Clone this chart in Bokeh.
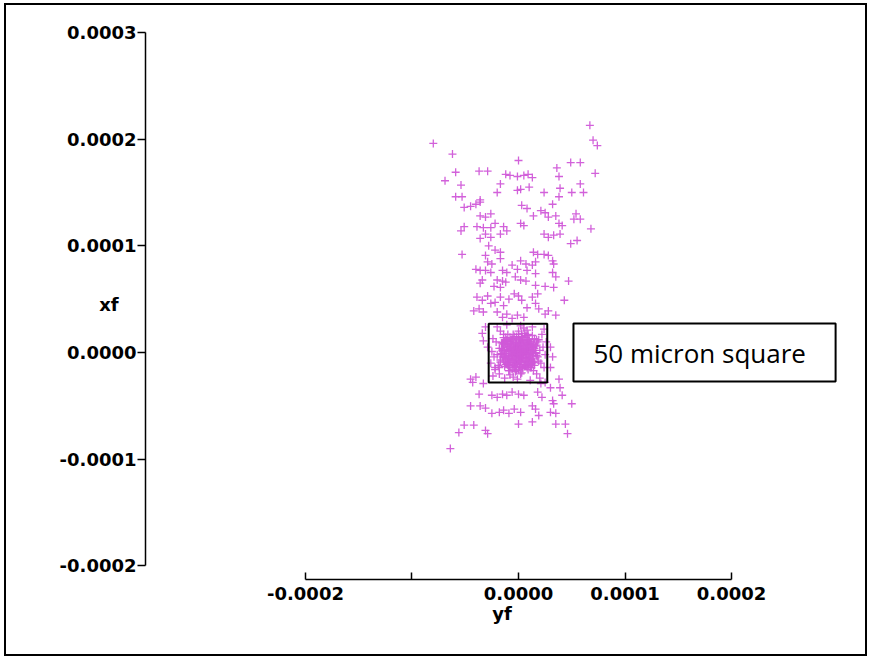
import numpy as np
from bokeh.plotting import figure
from bokeh.models import (Range1d, FixedTicker, CustomJSTickFormatter, BoxAnnotation,
                          Label, ColumnDataSource)
from bokeh.embed import file_html
from bokeh.resources import INLINE

# ---- data (in micrometres; converted to metres below) ----
# horizontal axis "yf", vertical axis "xf"
yf_outer_um = [-80, -62, -59, -69, -54, -37, -29, 0, -12, -8, -1, 5, 9, -17, -20, -1, 2, 10, -59, -53, -36,
               67, 70, 74, 49, 58, 36, 38, 72, 39, 58, 50, 61, 24, 38, 13,
               -51, -45, -40, -36, 3, 8, -36, -31, -26, -22, -39, -33, -26, -51, -54, -14, -11, 2, 5,
               -31, -36, -26, -17, -28, -22, -17, -53, -31, -17, -29, -25, -40, -36, -31, -26, -15, -11,
               2, 7, -6, -1, -34, -36, -20, -15, -12, -23, -17, -3, 2, 7, 8,
               32, 21, 25, 28, 35, 14, 54, 52, 58, 68, 38, 41, 24, 28, 33, 39, 49, 55, 14, 18, 24, 28,
               32, 33, 16, 13, 32, 35, 16, 47, 16, 25, 33,
               -39, -34, -29, -26, -22, -17, -14, -9, -4, 0, 3, 8, -42, -37, -33, -20, -15, -11, -6, -1, 5,
               -31, -34, -33, -29, -45, -40, -22, -18,
               13, 18, 16, 19, 35, 43, 25, 28, 30, 32, 30, 38,
               -43, -33, -37, -45, -36, -31, -25, -20, -15, -11, -6, 0, 5, -25, -18, -14, -9, -4, 2,
               -51, -56, -42, -31, -29, 0, -64,
               21, 25, 30, 18, 22, 39, 41, 32, 33, 50, 13, 16, 19, 30, 35, 13, 35, 44, 46]
xf_outer_um = [196, 186, 169, 161, 157, 170, 170, 180, 167, 166, 165, 166, 167, 158, 150, 152, 153, 155, 146, 146, 143,
               213, 199, 194, 178, 178, 173, 165, 168, 154, 158, 150, 150, 150, 146, 164,
               136, 137, 139, 141, 138, 135, 128, 127, 130, 121, 118, 117, 117, 118, 114, 118, 114, 121, 119,
               111, 107, 108, 111, 100, 96, 94, 92, 91, 88, 85, 83, 78, 77, 77, 75, 77, 75,
               86, 83, 82, 78, 68, 65, 68, 67, 66, 62, 61, 71, 68, 67, 77,
               139, 133, 131, 127, 128, 128, 130, 125, 125, 116, 121, 119, 111, 108, 110, 111, 102, 105, 94, 92, 92, 91,
               86, 83, 85, 82, 75, 71, 74, 67, 63, 62, 61,
               52, 49, 53, 46, 47, 52, 44, 50, 55, 53, 49, 42, 39, 41, 38, 38, 33, 36, 32, 35, 33,
               24, 18, 11, 5, -25, -23, -14, -20,
               52, 55, 46, 41, 35, 49, 36, 39, 5, -4, -14, -25,
               -28, -29, -39, -50, -50, -52, -40, -42, -39, -40, -37, -39, -40, -57, -56, -54, -57, -53, -56,
               -68, -75, -68, -73, -76, -67, -90,
               -29, -28, -33, -37, -42, -33, -40, -45, -48, -48, -50, -53, -59, -56, -57, -65, -67, -67, -76]

yf_core_um = [0, 2, -2, 1, -1, 4, -4, 3, -3, 6, -6, 0, 1, 7, -7, 5, -5, 8, -8, 9, -9, 2, -2, 10, -10, 11, -11,
              4, -4, 12, -12, 7, -7, 13, -13, 0, 1, 14, -14, 10, -10, 15, -15, 6, -6, 16, -16, 12, -12, 17, -17,
              3, -3, 18, -18, 9, -9, 19, -19, 14, -14, 20, -20, 0, 2, 21, -21, 8, -8, 22, -22, 17, -17, 23, -23,
              5, -5, 24, -24, 13, -13, 24, -24, 20, -20, 25, -25, 2, -1, 26, -26, 11, -11,
              1, -3, 5, -6, 3, 8, -9, 0, -4, 6, 10, -11, 2, -7, 11, 13, -13, 7, -2, 14, -15, 4, -8, 12, -12,
              16, -16, 9, 0, 17, -5, -17, 15, -14, 18, -2, 6, -10, 13, 19, -18, 3,
              2, -1, 4, -5, 7, -3, 9, -8, 1, 5, -2, 10, -10, 12, -12, 6, -6, 14, -14, 3, -3, 16, -16, 11, -9,
              8, -11, 15, 0, 17, -17, 13, -13, 4, -4, 8, -7, 2, 11, -2, 6, -9, 9, -5, 1, -1,
              0, 3, -3, 0, 2, -2, 6, -6, 4, -4, 7, -7, 9, -9, 3, -3, 11, -11, 1, -1, 8, -8, 12, -12, 5, -5,
              10, -10, 13, -13, 0, 1, 6, -6, 9, -9, 4, -4, 1, -1, 7, -7, 2, -2, 10, -10, 6, -6, 12, -12,
              8, -8, 14, -14, 3, -3, 11, -11, 13, -13, 15, -15, 4, -4, 1, -2, 2, -1, 5, -5, 7, -7, 9, -9,
              11, -11, 14, -14, 8, -8]
xf_core_um = [0, 1, -1, -3, 3, 2, -2, -5, 5, 0, 1, 6, -7, 4, -4, -8, 8, -2, 3, 7, -6, 10, -10, -5, 5, 2, -1,
              12, -12, 9, -9, -12, 12, -1, 2, 14, -14, 5, -5, 12, -12, -9, 9, 16, -16, 0, -1, -14, 14, 7, -7,
              18, -18, -4, 4, 17, -17, 12, -12, -17, 17, 2, -2, 20, -20, -10, 10, 21, -21, 17, -16, -20, 20, 5, -4,
              23, -23, -14, 13, 24, -24, 22, -22, -24, 24, -2, 1, 25, -25, 10, -10, -26, 26,
              1, 4, -2, -3, 7, 3, 1, -8, -9, -9, -4, 6, 12, 10, 8, -6, -4, 14, 15, 2, 2, -14, -14, -11, -11,
              6, 9, -16, 17, -3, 17, -9, 13, 14, 10, -17, 18, 17, 16, -8, -14, -19,
              4, 6, 9, 2, -5, -5, -1, -6, -11, 5, 9, 10, -9, 0, -1, -13, 13, -9, 8, 15, -13, -1, 4, -14, -17,
              16, 12, -12, -16, 12, -2, 5, -13, -5, 0, 8, 4, -3, -7, -7, 1, -11, -12, 7, 9, -2,
              3, 0, 0, -3, 6, -6, 2, -2, -4, 4, 7, -7, 3, -3, -9, 9, -2, 2, 11, -11, -8, 8, 5, -5, 12, -12,
              -10, 10, 1, -1, 13, -13, 9, -9, -6, 6, 1, -1, -5, 5, -1, 1, -9, 9, 6, -6, -11, 11, -8, 8,
              12, -12, -3, 3, 14, -14, 10, -10, -10, 10, 4, -4, -15, 15, 2, 1, -1, -2, 7, -7, -6, 6, 11, -11,
              -11, 11, 8, -8, -14, 14]

yf_vals = np.array(yf_outer_um + yf_core_um) * 1e-6
xf_vals = np.array(xf_outer_um + xf_core_um) * 1e-6

x_ticks = [-0.0002, -0.0001, 0.0, 0.0001, 0.0002]
y_ticks = [-0.0002, -0.0001, 0.0, 0.0001, 0.0002, 0.0003]

box_note = "50 micron square"

# ---- figure ----
W, H = 863, 653
p = figure(width=W, height=H, output_backend="svg", toolbar_location=None,
           x_range=Range1d(-3.502e-4, 3.192e-4), y_range=Range1d(-2.127e-4, 3.037e-4),
           min_border_left=139, min_border_right=11, min_border_top=23, min_border_bottom=79)
p.styles = {"border": "2px solid black", "margin-left": "4px", "margin-top": "3px"}
p.background_fill_color = "white"
p.border_fill_color = "white"
p.outline_line_color = None
p.xgrid.visible = False
p.ygrid.visible = False

FONT = "DejaVu Sans"
FSIZE = "18px"

xa = p.xaxis[0]
xa.bounds = (-0.0002, 0.0002)
xa.ticker = FixedTicker(ticks=x_ticks, minor_ticks=[])
xa.formatter = CustomJSTickFormatter(code="return Math.abs(tick + 0.0001) < 1e-9 ? '' : tick.toFixed(4);")
xa.major_tick_in = 7
xa.major_tick_out = 0
xa.minor_tick_in = 0
xa.minor_tick_out = 0
xa.axis_line_width = 1.5
xa.major_tick_line_width = 1.5
xa.major_label_standoff = 7
xa.major_label_text_font = FONT
xa.major_label_text_font_style = "bold"
xa.major_label_text_font_size = FSIZE
xa.major_label_text_color = "black"
xa.axis_label = "yf"
xa.axis_label_text_font = FONT
xa.axis_label_text_font_style = "bold"
xa.axis_label_text_font_size = FSIZE
xa.axis_label_text_color = "black"
xa.axis_label_standoff = 0

ya = p.yaxis[0]
ya.bounds = (-0.0002, 0.0003)
ya.ticker = FixedTicker(ticks=y_ticks, minor_ticks=[])
ya.formatter = CustomJSTickFormatter(code="return tick.toFixed(4);")
ya.major_tick_in = 0
ya.major_tick_out = 8
ya.minor_tick_in = 0
ya.minor_tick_out = 0
ya.axis_line_width = 1.5
ya.major_tick_line_width = 1.5
ya.major_label_standoff = 1
ya.major_label_text_font = FONT
ya.major_label_text_font_style = "bold"
ya.major_label_text_font_size = FSIZE
ya.major_label_text_color = "black"
ya.axis_label = "xf"
ya.axis_label_orientation = "horizontal"
ya.axis_label_text_font = FONT
ya.axis_label_text_font_style = "bold"
ya.axis_label_text_font_size = FSIZE
ya.axis_label_text_color = "black"
ya.axis_label_standoff = -62

src = ColumnDataSource(dict(yf=yf_vals, xf=xf_vals))
p.scatter("yf", "xf", source=src, marker="cross", size=8, line_color="#d058d8",
          line_width=1.3, line_alpha=0.95)

# 50 micron square
p.add_layout(BoxAnnotation(left=-2.8e-5, right=2.7e-5, bottom=-2.8e-5, top=2.7e-5,
                           fill_color=None, fill_alpha=0, line_color="black",
                           line_alpha=1, line_width=2))
# note box
p.add_layout(BoxAnnotation(left=5.16e-5, right=2.977e-4, bottom=-2.72e-5, top=2.72e-5,
                           fill_color="white", fill_alpha=1, line_color="black",
                           line_alpha=1, line_width=2))
p.add_layout(Label(x=7.04e-5, y=0, text=box_note, text_font="Open Sans",
                   text_font_size="26px", text_baseline="middle", text_color="black"))

open("out.html", "w").write(file_html(p, INLINE))
